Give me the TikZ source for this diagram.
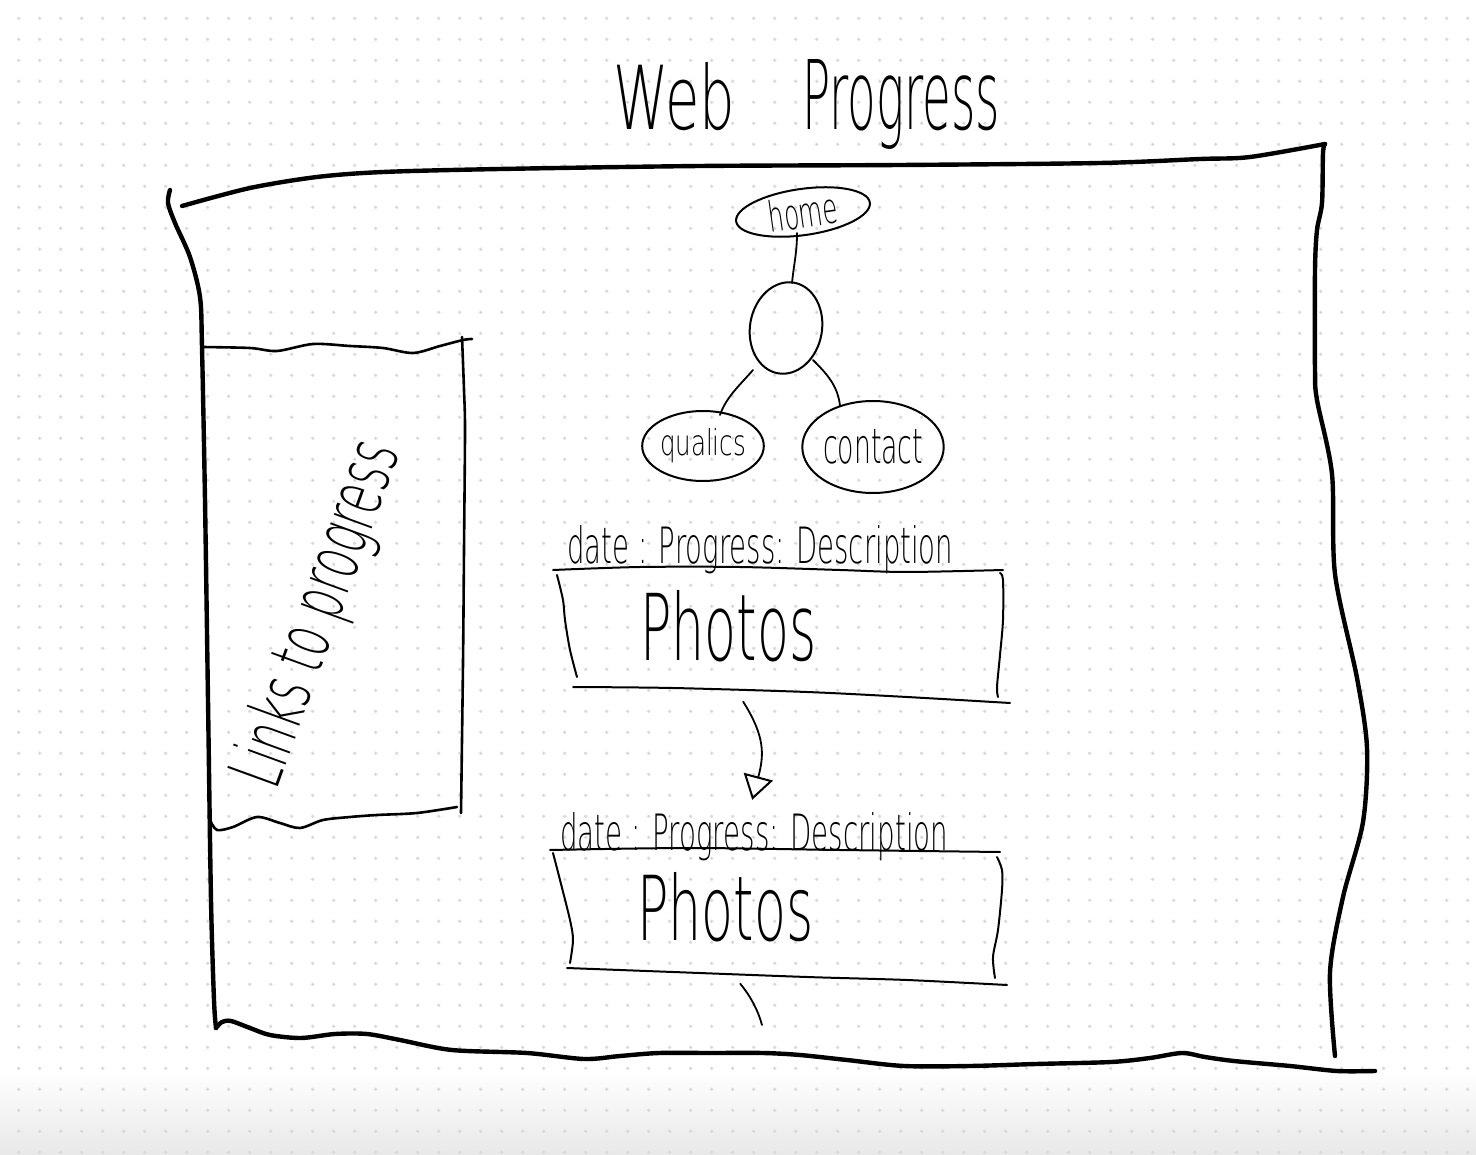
\documentclass[tikz,border=0pt]{standalone}
\usepackage{fontspec}
\usepackage{graphicx}
\usetikzlibrary{shapes.geometric,arrows.meta,calc}
\newfontfamily\handfont{DejaVu Sans ExtraLight}
% text squeezed into a given width and height (above the baseline)
\newcommand{\hw}[3]{\resizebox{#1}{#2}{\handfont #3}}
\definecolor{dotc}{gray}{0.85}
\begin{document}
\begin{tikzpicture}[x=1pt,y=-1pt,
  frame/.style={line width=4.4pt,line cap=round,line join=round},
  pen/.style={line width=2.6pt,line cap=round,line join=round},
  thin/.style={line width=2pt,line cap=round,line join=round},
  blob/.style={draw,ellipse,line width=2pt,inner sep=0pt},
  link/.style={line width=1.8pt,line cap=round},
  label/.style={inner sep=0pt,anchor=base west},
  arrow/.style={line width=1.8pt,line cap=round,-{Triangle[open,length=24pt,width=30pt,line width=2pt]}}]
\useasboundingbox (0,0) rectangle (1476,1155);
\fill[white] (0,0) rectangle (1476,1155);
\shade[top color=white,bottom color=black!9] (0,1070) rectangle (1476,1155);
% dotted paper
\foreach \i in {0,...,69}{\foreach \j in {0,...,54}{
  \fill[dotc] ({18.7+21*\i},{18.3+21*\j}) circle (1.8);}}

% title
\node[label] (title) at (613,130) {\hw{122pt}{67pt}{Web}\hspace{67pt}\hw{198pt}{70pt}{Progress}};

% page frame
\draw[frame] plot[smooth,tension=0.5] coordinates {(182,206) (250,188) (317,177) (383,172) (500,169) (700,166) (900,165) (1100,163) (1200,159) (1250,157) (1325,144)};
\draw[frame] plot[smooth,tension=0.5] coordinates {(170,190) (168,203) (175,223) (190,257) (200,297) (202,347) (205,500) (208,700) (211,900) (214,1000) (216,1028)};
\draw[frame] plot[smooth,tension=0.5] coordinates {(216,1028) (222,1022) (231,1021) (250,1028) (270,1035) (301,1038) (335,1034) (367,1034) (400,1040) (452,1050) (527,1053) (584,1059) (620,1056) (659,1053) (710,1053) (763,1053) (800,1055) (847,1060) (904,1066) (970,1066) (1036,1064) (1111,1062) (1150,1058) (1182,1053) (1205,1057) (1234,1061) (1290,1066) (1337,1071) (1375,1071)};
\draw[frame] plot[smooth,tension=0.5] coordinates {(1325,144) (1323,153) (1322,203) (1317,230) (1315,270) (1315,370) (1317,400) (1332,474) (1335,574) (1357,678) (1367,748) (1363,822) (1343,897) (1330,972) (1335,1056)};

% side panel
\draw[pen] plot[smooth,tension=0.5] coordinates {(202,347) (250,348) (277,351) (313,344) (350,346) (383,348) (413,353) (440,346) (463,340) (472,339)};
\draw[pen] plot[smooth,tension=0.5] coordinates {(462,337) (464,390) (465,430) (464,550) (463,663) (461,813)};
\draw[pen] plot[smooth,tension=0.5] coordinates {(210,820) (217,830) (233,827) (257,817) (280,823) (300,828) (323,820) (350,817) (377,815) (417,813) (457,807)};
\node[label,rotate=70] (links) at (276,792) {\hw{362pt}{56pt}{Links to progress}};

% site map
\node[blob,minimum width=135pt,minimum height=46pt,rotate=8] (home) at (803,212) {\hw{70pt}{32pt}{home}};
\node[blob,minimum width=72pt,minimum height=92pt,rotate=-10] (mid) at (786,328) {};
\node[blob,minimum width=112pt,minimum height=70pt] (qualics) at (703,446) {\hw{86pt}{27pt}{qualics}};
\node[blob,minimum width=138pt,minimum height=92pt] (contact) at (873,447) {\hw{100pt}{34pt}{contact}};
\draw[link] ($(home)+(-6,21)$) .. controls +(0,20) and +(2,-20) .. ($(mid)+(6,-45)$);
\draw[link] ($(mid)+(-33,42)$) .. controls +(-12,14) and +(6,-18) .. ($(qualics)+(17,-31)$);
\draw[link] ($(mid)+(27,32)$) .. controls +(14,14) and +(-2,-20) .. ($(contact)+(-33,-41)$);

% first progress entry
\node[label] (date1) at (567,563) {\hw{386pt}{38pt}{date : Progress: Description}};
\draw[thin] plot[smooth,tension=0.5] coordinates {(553,570) (640,567) (740,567) (840,570) (907,572) (1003,570)};
\draw[thin] plot[smooth,tension=0.5] coordinates {(557,575) (563,600) (565,620) (570,650) (577,677)};
\draw[thin] plot[smooth,tension=0.5] coordinates {(1000,573) (1003,580) (1003,620) (1000,655) (997,687) (998,697)};
\draw[thin] plot[smooth,tension=0.5] coordinates {(573,687) (673,688) (807,692) (907,697) (1010,703)};
\node[label] (photos1) at (640,660) {\hw{176pt}{70pt}{Photos}};

% second progress entry
\node[label] (date2) at (560,850) {\hw{388pt}{38pt}{date : Progress: Description}};
\draw[thin] plot[smooth,tension=0.5] coordinates {(550,850) (690,848) (840,850) (1000,852)};
\draw[thin] plot[smooth,tension=0.5] coordinates {(553,853) (560,880) (570,920) (573,940) (570,963)};
\draw[thin] plot[smooth,tension=0.5] coordinates {(997,857) (1002,870) (1002,890) (998,930) (993,957) (995,978)};
\draw[thin] plot[smooth,tension=0.5] coordinates {(567,968) (673,972) (807,977) (907,980) (1007,985)};
\node[label] (photos2) at (637,940) {\hw{176pt}{68pt}{Photos}};

% flow between entries
\draw[arrow] ($(photos1.south)+(15,40)$) .. controls +(22,35) and +(12,-45) .. ($(date2.north)+(-2,-12)$);
\coordinate (next) at (762,1025);
\draw[link] ($(photos2.south)+(15,42)$) .. controls +(10,12) and +(-4,-15) .. (next);
\end{tikzpicture}
\end{document}
